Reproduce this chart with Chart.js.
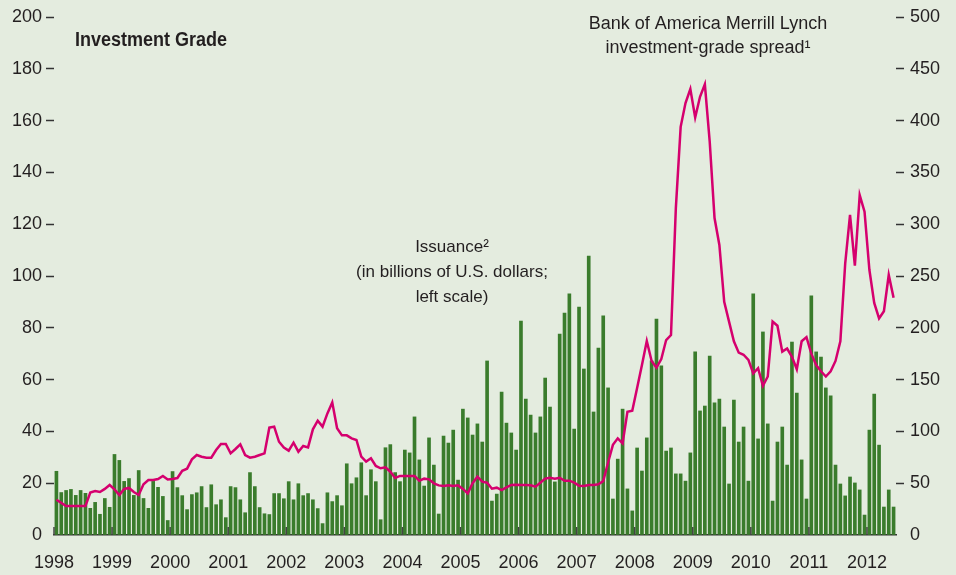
<!DOCTYPE html>
<html>
<head>
<meta charset="utf-8">
<script src="https://cdn.jsdelivr.net/npm/chart.js@4.4.1/dist/chart.umd.min.js"></script>
<style>
html, body { margin: 0; padding: 0; background: #e4ecdf; }
#wrap { width: 956px; height: 575px; }
</style>
</head>
<body>
<div id="wrap"><canvas id="chart" width="956" height="575"></canvas></div>
<script>
// one label per January, 1998 .. 2012
var years = ['1998', '1999', '2000', '2001', '2002', '2003', '2004', '2005',
	'2006', '2007', '2008', '2009', '2010', '2011', '2012'];

// monthly issuance, billions of U.S. dollars (left scale), Jan 1998 - Jun 2012
var issuance = [
	24.6, 16.4, 17.2, 17.6, 15.3, 17.2, 16.1, 10.3, 12.6, 8.0, 14.1, 10.7,
	31.1, 28.8, 20.7, 21.8, 15.3, 24.9, 14.1, 10.3, 20.7, 18.4, 14.9, 5.6,
	24.5, 18.3, 15.2, 9.8, 15.6, 16.3, 18.7, 10.6, 19.4, 11.7, 13.6, 6.7,
	18.7, 18.3, 13.6, 8.6, 24.1, 18.7, 10.6, 8.2, 7.9, 16.0, 16.0, 14.0,
	20.6, 13.6, 19.8, 15.2, 16.0, 13.6, 10.2, 4.4, 16.3, 12.9, 15.2, 11.3,
	27.5, 19.8, 22.1, 27.9, 15.2, 25.2, 20.6, 5.9, 33.7, 34.9, 24.1, 20.6,
	32.8, 31.7, 45.6, 29.0, 18.9, 37.5, 27.0, 8.1, 38.2, 35.5, 40.5, 21.2,
	48.6, 45.2, 38.6, 42.9, 35.9, 67.2, 13.1, 15.8, 55.2, 43.2, 39.4, 32.8,
	82.6, 52.5, 46.3, 39.4, 45.6, 60.6, 49.4, 20.5, 77.6, 85.7, 93.1, 40.9,
	88.0, 64.1, 107.7, 47.5, 72.2, 84.6, 56.8, 13.9, 29.3, 48.6, 17.8, 9.3,
	33.6, 24.7, 37.5, 67.2, 83.4, 65.3, 32.4, 33.6, 23.6, 23.6, 20.8, 31.7,
	70.7, 47.9, 49.8, 69.1, 51.0, 52.5, 41.7, 19.7, 52.1, 35.9, 41.7, 20.8,
	93.1, 37.1, 78.4, 42.9, 13.1, 35.9, 41.7, 27.0, 74.5, 54.8, 29.0, 13.9,
	92.3, 70.7, 68.7, 56.8, 53.7, 27.0, 19.7, 15.1, 22.4, 20.1, 17.4, 7.7,
	40.5, 54.4, 34.7, 10.8, 17.4, 10.8
];

// BofA Merrill Lynch investment-grade spread, basis points (right scale)
var spread = [
	34, 31, 28, 28, 28, 28, 28, 41, 42.5, 41.5, 44.5, 48.3,
	44, 38.6, 44.4, 45.4, 41.5, 38.6, 49, 53, 53, 54, 57, 53.5,
	54, 55, 62, 64, 73, 77.2, 75.6, 74.6, 74.6, 82, 87.8, 87.8,
	78.8, 83, 87.5, 77.2, 74.6, 75.6, 77.2, 78.8, 103.6, 104.6, 90, 84.3,
	81.4, 89.1, 80.4, 85.9, 84.6, 102, 110.4, 104.6, 117.4, 128, 103, 96.2,
	96.2, 93.3, 91.7, 75.6, 70.8, 74, 66.6, 64.4, 65.3, 61.1, 55, 57,
	57, 57, 57, 52.4, 54.4, 53.7, 49.9, 47.9, 47.3, 47.9, 47.3, 47.9,
	44.5, 40.2, 50, 56.3, 51.5, 50.5, 44.7, 45.7, 43.4, 46, 48.3, 48.6,
	48.3, 48.3, 48, 46.7, 50.5, 54.4, 55.3, 54.4, 55.3, 52.4, 52.4, 50.5,
	47.6, 47.3, 48.3, 48.3, 48.9, 52, 70, 87, 93.3, 88.5, 119, 120,
	142, 164, 187.3, 168, 161.5, 169.9, 188.2, 193, 315, 394, 417, 430.5,
	403, 423, 435, 380, 306, 280, 225, 206, 187, 176, 174, 169,
	156, 161, 144, 153, 206, 202, 177, 180, 172, 160, 187, 191,
	175, 164, 158, 153, 158, 168, 187, 262, 309, 260, 328, 312,
	256, 224, 209, 216, 251, 229
];

var titleText = 'Investment Grade';
var spreadNote = ['Bank of America Merrill Lynch', 'investment-grade spread\u00b9'];
var issuanceNote = ['Issuance\u00b2', '(in billions of U.S. dollars;', 'left scale)'];

var ink = '#231f20';
var font = "'Liberation Sans', Arial, sans-serif";

function toPoints(arr) {
	return arr.map(function (v, i) { return {x: i + 0.5, y: v}; });
}

function sideTick(ctx) {
	return ctx.tick && ctx.tick.value === 0 ? 'rgba(0,0,0,0)' : '#333';
}

var decor = {
	id: 'decor',
	afterDatasetsDraw: function (chart) {
		var ctx = chart.ctx, xs = chart.scales.x, a = chart.chartArea;
		ctx.save();
		// small year ticks standing on the baseline
		ctx.strokeStyle = '#444';
		ctx.lineWidth = 1.5;
		years.forEach(function (y, i) {
			var px = xs.getPixelForValue(i * 12);
			ctx.beginPath();
			ctx.moveTo(px, a.bottom);
			ctx.lineTo(px, a.bottom - 8);
			ctx.stroke();
		});

		ctx.fillStyle = ink;
		ctx.textBaseline = 'middle';

		// condensed bold panel title
		ctx.save();
		ctx.translate(a.left + 21, 40);
		ctx.scale(0.9, 1);
		ctx.textAlign = 'left';
		ctx.font = 'bold 20px ' + font;
		ctx.fillText(titleText, 0, 0);
		ctx.restore();

		ctx.textAlign = 'center';
		ctx.font = '18px ' + font;
		spreadNote.forEach(function (t, i) { ctx.fillText(t, 708, 24 + i * 24); });
		ctx.font = '17px ' + font;
		issuanceNote.forEach(function (t, i) { ctx.fillText(t, 452, 247 + i * 25); });
		ctx.restore();
	}
};

var chart = new Chart(document.getElementById('chart'), {
	type: 'bar',
	data: {
		datasets: [{
			type: 'line',
			data: toPoints(spread),
			yAxisID: 'y1',
			borderColor: '#d5006e',
			borderWidth: 2.5,
			pointRadius: 0,
			tension: 0,
			order: 0
		}, {
			type: 'bar',
			data: toPoints(issuance),
			yAxisID: 'y',
			backgroundColor: '#3a7c2c',
			barThickness: 3,
			order: 1
		}]
	},
	options: {
		responsive: false,
		devicePixelRatio: 1,
		animation: false,
		layout: {padding: {top: 17, left: 0, right: 0, bottom: 0}},
		plugins: {legend: {display: false}, tooltip: {enabled: false}},
		scales: {
			x: {
				type: 'linear',
				min: 0,
				max: issuance.length,
				offset: false,
				grid: {display: false, drawTicks: false},
				border: {display: true, color: '#333', width: 1.5},
				afterBuildTicks: function (s) {
					s.ticks = years.map(function (y, i) { return {value: i * 12}; });
				},
				afterFit: function (s) { s.height = 40; },
				ticks: {
					autoSkip: false,
					maxRotation: 0,
					padding: 17,
					color: ink,
					font: {family: font, size: 18},
					callback: function (v) { return years[v / 12]; }
				}
			},
			y: {
				position: 'left',
				min: 0,
				max: 200,
				afterFit: function (s) { s.width = 54; },
				grid: {drawOnChartArea: false, drawTicks: true, tickLength: 8, tickWidth: 1.5, tickColor: sideTick},
				border: {display: false},
				ticks: {stepSize: 20, padding: 4, color: ink, font: {family: font, size: 18}}
			},
			y1: {
				position: 'right',
				min: 0,
				max: 500,
				afterFit: function (s) { s.width = 60; },
				grid: {drawOnChartArea: false, drawTicks: true, tickLength: 8, tickWidth: 1.5, tickColor: sideTick},
				border: {display: false},
				ticks: {stepSize: 50, padding: 6, color: ink, font: {family: font, size: 18}}
			}
		}
	},
	plugins: [decor]
});
</script>
</body>
</html>
